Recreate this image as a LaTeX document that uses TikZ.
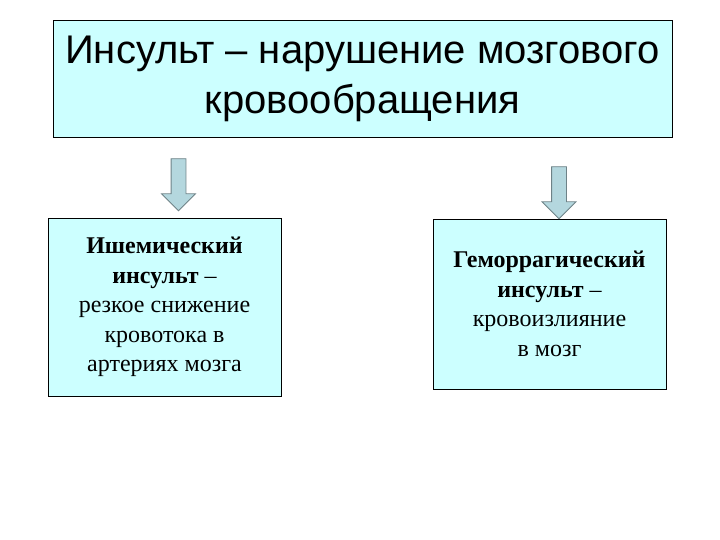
\documentclass[tikz,border=0pt]{standalone}
\usepackage{fontspec}
\setmainfont{Liberation Serif}
\newfontfamily\arialfont{Liberation Sans}
\usetikzlibrary{shapes.arrows}
\definecolor{boxfill}{RGB}{204,255,255}
\definecolor{arrowfill}{RGB}{180,215,222}
\definecolor{arrowline}{RGB}{110,130,135}

\begin{document}
\begin{tikzpicture}[
  x=1pt, y=1pt,
  titlebox/.style={rectangle, draw=black, fill=boxfill, line width=0.8pt,
    minimum width=619pt, minimum height=117pt, align=center,
    font=\arialfont\fontsize{40}{50}\selectfont},
  typebox/.style={rectangle, draw=black, fill=boxfill, line width=0.8pt,
    minimum width=233pt, align=center, inner sep=0pt,
    font=\fontsize{24}{29.5}\selectfont},
  downarr/.style={single arrow, draw=arrowline, fill=arrowfill, line width=0.8pt,
    rotate=-90, minimum height=52pt, inner sep=7pt,
    single arrow head extend=9.5pt},
]
\useasboundingbox (0,0) rectangle (720,-540);

\node[titlebox] (stroke) at (362.5,-78.5) {Инсульт – нарушение мозгового\\кровообращения};

\node[typebox, minimum height=178pt] (ischemic) at (164.5,-307)
  {\textbf{Ишемический}\\\textbf{инсульт} –\\резкое снижение\\кровотока в\\артериях мозга};
\node[typebox, minimum height=170pt] (hemorrhagic) at (549.5,-304)
  {\textbf{Геморрагический}\\\textbf{инсульт} –\\кровоизлияние\\в мозг};

% arrows from title to both types
\node[downarr] (arrL) at (178.5,-181) {};
\node[downarr] (arrR) at (559,-189) {};
\end{tikzpicture}
\end{document}
